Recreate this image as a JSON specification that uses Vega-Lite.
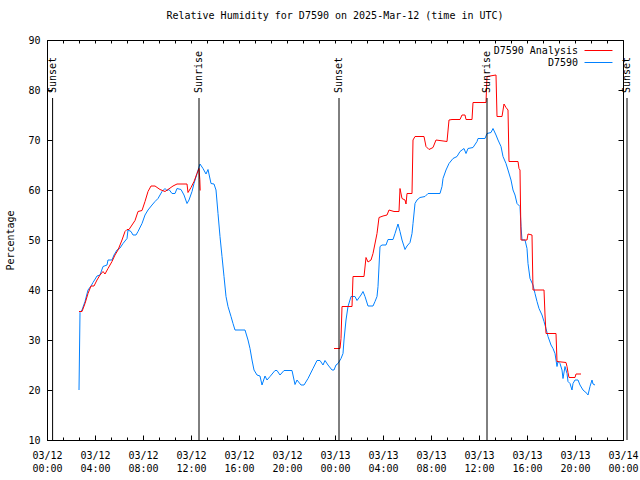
{
  "$schema": "https://vega.github.io/schema/vega-lite/v6.json",
  "width": 576,
  "height": 400,
  "autosize": "none",
  "padding": {"left": 47, "top": 40, "right": 17, "bottom": 40},
  "background": "white",
  "title": {"text": "Relative Humidity for D7590 on 2025-Mar-12 (time in UTC)", "font": "DejaVu Sans Mono", "fontSize": 10, "fontWeight": "normal", "color": "black", "offset": 14, "anchor": "middle"},
  "config": {
    "view": {"stroke": "black", "strokeWidth": 1},
    "axis": {"labelFont": "DejaVu Sans Mono", "labelFontSize": 10, "labelColor": "black", "titleFont": "DejaVu Sans Mono", "titleFontSize": 10, "titleFontWeight": "normal", "titleColor": "black", "tickColor": "black", "domainColor": "black", "grid": false},
    "legend": {"labelFont": "DejaVu Sans Mono", "labelFontSize": 10, "labelColor": "black"}
  },
  "datasets": {
    "events": [
      {"time": "2025-03-12T00:28:00Z", "event": "Sunset"},
      {"time": "2025-03-12T12:40:00Z", "event": "Sunrise"},
      {"time": "2025-03-13T00:20:00Z", "event": "Sunset"},
      {"time": "2025-03-13T12:40:00Z", "event": "Sunrise"},
      {"time": "2025-03-14T00:20:00Z", "event": "Sunset"}
    ],
    "rh": [
      {"time": "2025-03-12T02:40:00Z", "value": 20, "series": "D7590", "seg": "obs"},
      {"time": "2025-03-12T02:45:00Z", "value": 35.5, "series": "D7590", "seg": "obs"},
      {"time": "2025-03-12T02:55:00Z", "value": 36, "series": "D7590", "seg": "obs"},
      {"time": "2025-03-12T03:10:00Z", "value": 37.7, "series": "D7590", "seg": "obs"},
      {"time": "2025-03-12T03:25:00Z", "value": 40, "series": "D7590", "seg": "obs"},
      {"time": "2025-03-12T03:40:00Z", "value": 40.8, "series": "D7590", "seg": "obs"},
      {"time": "2025-03-12T03:50:00Z", "value": 41.5, "series": "D7590", "seg": "obs"},
      {"time": "2025-03-12T04:10:00Z", "value": 42.8, "series": "D7590", "seg": "obs"},
      {"time": "2025-03-12T04:25:00Z", "value": 43, "series": "D7590", "seg": "obs"},
      {"time": "2025-03-12T04:40:00Z", "value": 44.7, "series": "D7590", "seg": "obs"},
      {"time": "2025-03-12T05:00:00Z", "value": 45, "series": "D7590", "seg": "obs"},
      {"time": "2025-03-12T05:05:00Z", "value": 46, "series": "D7590", "seg": "obs"},
      {"time": "2025-03-12T05:25:00Z", "value": 46, "series": "D7590", "seg": "obs"},
      {"time": "2025-03-12T05:35:00Z", "value": 47, "series": "D7590", "seg": "obs"},
      {"time": "2025-03-12T05:50:00Z", "value": 48, "series": "D7590", "seg": "obs"},
      {"time": "2025-03-12T06:05:00Z", "value": 48.4, "series": "D7590", "seg": "obs"},
      {"time": "2025-03-12T06:20:00Z", "value": 49.3, "series": "D7590", "seg": "obs"},
      {"time": "2025-03-12T06:40:00Z", "value": 50.3, "series": "D7590", "seg": "obs"},
      {"time": "2025-03-12T06:45:00Z", "value": 52, "series": "D7590", "seg": "obs"},
      {"time": "2025-03-12T07:00:00Z", "value": 51.7, "series": "D7590", "seg": "obs"},
      {"time": "2025-03-12T07:10:00Z", "value": 51, "series": "D7590", "seg": "obs"},
      {"time": "2025-03-12T07:25:00Z", "value": 51, "series": "D7590", "seg": "obs"},
      {"time": "2025-03-12T07:35:00Z", "value": 51.7, "series": "D7590", "seg": "obs"},
      {"time": "2025-03-12T07:55:00Z", "value": 53.3, "series": "D7590", "seg": "obs"},
      {"time": "2025-03-12T08:10:00Z", "value": 55, "series": "D7590", "seg": "obs"},
      {"time": "2025-03-12T08:25:00Z", "value": 56, "series": "D7590", "seg": "obs"},
      {"time": "2025-03-12T08:45:00Z", "value": 57, "series": "D7590", "seg": "obs"},
      {"time": "2025-03-12T09:00:00Z", "value": 57.7, "series": "D7590", "seg": "obs"},
      {"time": "2025-03-12T09:15:00Z", "value": 58.3, "series": "D7590", "seg": "obs"},
      {"time": "2025-03-12T09:35:00Z", "value": 59.7, "series": "D7590", "seg": "obs"},
      {"time": "2025-03-12T09:50:00Z", "value": 60.3, "series": "D7590", "seg": "obs"},
      {"time": "2025-03-12T10:00:00Z", "value": 59.9, "series": "D7590", "seg": "obs"},
      {"time": "2025-03-12T10:10:00Z", "value": 60.1, "series": "D7590", "seg": "obs"},
      {"time": "2025-03-12T10:25:00Z", "value": 59.3, "series": "D7590", "seg": "obs"},
      {"time": "2025-03-12T10:40:00Z", "value": 59.3, "series": "D7590", "seg": "obs"},
      {"time": "2025-03-12T10:50:00Z", "value": 60.3, "series": "D7590", "seg": "obs"},
      {"time": "2025-03-12T11:10:00Z", "value": 60.1, "series": "D7590", "seg": "obs"},
      {"time": "2025-03-12T11:25:00Z", "value": 59, "series": "D7590", "seg": "obs"},
      {"time": "2025-03-12T11:40:00Z", "value": 57.3, "series": "D7590", "seg": "obs"},
      {"time": "2025-03-12T11:50:00Z", "value": 58, "series": "D7590", "seg": "obs"},
      {"time": "2025-03-12T12:05:00Z", "value": 59.7, "series": "D7590", "seg": "obs"},
      {"time": "2025-03-12T12:15:00Z", "value": 61.3, "series": "D7590", "seg": "obs"},
      {"time": "2025-03-12T12:30:00Z", "value": 63.3, "series": "D7590", "seg": "obs"},
      {"time": "2025-03-12T12:45:00Z", "value": 65.2, "series": "D7590", "seg": "obs"},
      {"time": "2025-03-12T13:00:00Z", "value": 64.3, "series": "D7590", "seg": "obs"},
      {"time": "2025-03-12T13:15:00Z", "value": 63.2, "series": "D7590", "seg": "obs"},
      {"time": "2025-03-12T13:25:00Z", "value": 64.1, "series": "D7590", "seg": "obs"},
      {"time": "2025-03-12T13:40:00Z", "value": 61.3, "series": "D7590", "seg": "obs"},
      {"time": "2025-03-12T13:55:00Z", "value": 61.2, "series": "D7590", "seg": "obs"},
      {"time": "2025-03-12T14:05:00Z", "value": 60, "series": "D7590", "seg": "obs"},
      {"time": "2025-03-12T14:15:00Z", "value": 55.3, "series": "D7590", "seg": "obs"},
      {"time": "2025-03-12T14:25:00Z", "value": 50.7, "series": "D7590", "seg": "obs"},
      {"time": "2025-03-12T14:35:00Z", "value": 46.7, "series": "D7590", "seg": "obs"},
      {"time": "2025-03-12T14:45:00Z", "value": 42.7, "series": "D7590", "seg": "obs"},
      {"time": "2025-03-12T14:55:00Z", "value": 38.7, "series": "D7590", "seg": "obs"},
      {"time": "2025-03-12T15:05:00Z", "value": 36.7, "series": "D7590", "seg": "obs"},
      {"time": "2025-03-12T15:20:00Z", "value": 34.7, "series": "D7590", "seg": "obs"},
      {"time": "2025-03-12T15:30:00Z", "value": 33.3, "series": "D7590", "seg": "obs"},
      {"time": "2025-03-12T15:40:00Z", "value": 32, "series": "D7590", "seg": "obs"},
      {"time": "2025-03-12T16:30:00Z", "value": 32, "series": "D7590", "seg": "obs"},
      {"time": "2025-03-12T16:45:00Z", "value": 30, "series": "D7590", "seg": "obs"},
      {"time": "2025-03-12T16:55:00Z", "value": 28.3, "series": "D7590", "seg": "obs"},
      {"time": "2025-03-12T17:05:00Z", "value": 26, "series": "D7590", "seg": "obs"},
      {"time": "2025-03-12T17:15:00Z", "value": 24, "series": "D7590", "seg": "obs"},
      {"time": "2025-03-12T17:30:00Z", "value": 23, "series": "D7590", "seg": "obs"},
      {"time": "2025-03-12T17:45:00Z", "value": 22.8, "series": "D7590", "seg": "obs"},
      {"time": "2025-03-12T17:55:00Z", "value": 21, "series": "D7590", "seg": "obs"},
      {"time": "2025-03-12T18:10:00Z", "value": 22.8, "series": "D7590", "seg": "obs"},
      {"time": "2025-03-12T18:20:00Z", "value": 22, "series": "D7590", "seg": "obs"},
      {"time": "2025-03-12T18:35:00Z", "value": 22.7, "series": "D7590", "seg": "obs"},
      {"time": "2025-03-12T19:00:00Z", "value": 23.9, "series": "D7590", "seg": "obs"},
      {"time": "2025-03-12T19:10:00Z", "value": 23.9, "series": "D7590", "seg": "obs"},
      {"time": "2025-03-12T19:25:00Z", "value": 23, "series": "D7590", "seg": "obs"},
      {"time": "2025-03-12T19:45:00Z", "value": 23.9, "series": "D7590", "seg": "obs"},
      {"time": "2025-03-12T20:25:00Z", "value": 23.9, "series": "D7590", "seg": "obs"},
      {"time": "2025-03-12T20:40:00Z", "value": 21.1, "series": "D7590", "seg": "obs"},
      {"time": "2025-03-12T20:50:00Z", "value": 22, "series": "D7590", "seg": "obs"},
      {"time": "2025-03-12T21:10:00Z", "value": 21, "series": "D7590", "seg": "obs"},
      {"time": "2025-03-12T21:25:00Z", "value": 21, "series": "D7590", "seg": "obs"},
      {"time": "2025-03-12T21:45:00Z", "value": 22.3, "series": "D7590", "seg": "obs"},
      {"time": "2025-03-12T22:10:00Z", "value": 24.3, "series": "D7590", "seg": "obs"},
      {"time": "2025-03-12T22:30:00Z", "value": 25.9, "series": "D7590", "seg": "obs"},
      {"time": "2025-03-12T22:45:00Z", "value": 25.9, "series": "D7590", "seg": "obs"},
      {"time": "2025-03-12T23:00:00Z", "value": 25, "series": "D7590", "seg": "obs"},
      {"time": "2025-03-12T23:10:00Z", "value": 25.9, "series": "D7590", "seg": "obs"},
      {"time": "2025-03-12T23:25:00Z", "value": 25, "series": "D7590", "seg": "obs"},
      {"time": "2025-03-12T23:45:00Z", "value": 24, "series": "D7590", "seg": "obs"},
      {"time": "2025-03-12T23:55:00Z", "value": 24, "series": "D7590", "seg": "obs"},
      {"time": "2025-03-13T00:05:00Z", "value": 25, "series": "D7590", "seg": "obs"},
      {"time": "2025-03-13T00:15:00Z", "value": 25.3, "series": "D7590", "seg": "obs"},
      {"time": "2025-03-13T00:30:00Z", "value": 26.3, "series": "D7590", "seg": "obs"},
      {"time": "2025-03-13T00:40:00Z", "value": 27.3, "series": "D7590", "seg": "obs"},
      {"time": "2025-03-13T00:45:00Z", "value": 30, "series": "D7590", "seg": "obs"},
      {"time": "2025-03-13T00:55:00Z", "value": 34, "series": "D7590", "seg": "obs"},
      {"time": "2025-03-13T01:05:00Z", "value": 36.7, "series": "D7590", "seg": "obs"},
      {"time": "2025-03-13T01:20:00Z", "value": 38.7, "series": "D7590", "seg": "obs"},
      {"time": "2025-03-13T01:40:00Z", "value": 38.7, "series": "D7590", "seg": "obs"},
      {"time": "2025-03-13T01:50:00Z", "value": 37.9, "series": "D7590", "seg": "obs"},
      {"time": "2025-03-13T02:10:00Z", "value": 39, "series": "D7590", "seg": "obs"},
      {"time": "2025-03-13T02:20:00Z", "value": 39.7, "series": "D7590", "seg": "obs"},
      {"time": "2025-03-13T02:30:00Z", "value": 38.7, "series": "D7590", "seg": "obs"},
      {"time": "2025-03-13T02:45:00Z", "value": 36.8, "series": "D7590", "seg": "obs"},
      {"time": "2025-03-13T03:10:00Z", "value": 36.8, "series": "D7590", "seg": "obs"},
      {"time": "2025-03-13T03:20:00Z", "value": 37.7, "series": "D7590", "seg": "obs"},
      {"time": "2025-03-13T03:30:00Z", "value": 38.7, "series": "D7590", "seg": "obs"},
      {"time": "2025-03-13T03:35:00Z", "value": 40.7, "series": "D7590", "seg": "obs"},
      {"time": "2025-03-13T03:45:00Z", "value": 48.7, "series": "D7590", "seg": "obs"},
      {"time": "2025-03-13T03:55:00Z", "value": 49, "series": "D7590", "seg": "obs"},
      {"time": "2025-03-13T04:15:00Z", "value": 49, "series": "D7590", "seg": "obs"},
      {"time": "2025-03-13T04:25:00Z", "value": 50.1, "series": "D7590", "seg": "obs"},
      {"time": "2025-03-13T04:50:00Z", "value": 50.1, "series": "D7590", "seg": "obs"},
      {"time": "2025-03-13T05:00:00Z", "value": 51.3, "series": "D7590", "seg": "obs"},
      {"time": "2025-03-13T05:15:00Z", "value": 53.2, "series": "D7590", "seg": "obs"},
      {"time": "2025-03-13T05:25:00Z", "value": 51.7, "series": "D7590", "seg": "obs"},
      {"time": "2025-03-13T05:35:00Z", "value": 50, "series": "D7590", "seg": "obs"},
      {"time": "2025-03-13T05:50:00Z", "value": 48.1, "series": "D7590", "seg": "obs"},
      {"time": "2025-03-13T06:00:00Z", "value": 48.8, "series": "D7590", "seg": "obs"},
      {"time": "2025-03-13T06:15:00Z", "value": 49.5, "series": "D7590", "seg": "obs"},
      {"time": "2025-03-13T06:25:00Z", "value": 51.3, "series": "D7590", "seg": "obs"},
      {"time": "2025-03-13T06:30:00Z", "value": 53.3, "series": "D7590", "seg": "obs"},
      {"time": "2025-03-13T06:40:00Z", "value": 57.3, "series": "D7590", "seg": "obs"},
      {"time": "2025-03-13T06:50:00Z", "value": 58, "series": "D7590", "seg": "obs"},
      {"time": "2025-03-13T07:05:00Z", "value": 58.5, "series": "D7590", "seg": "obs"},
      {"time": "2025-03-13T07:30:00Z", "value": 58.7, "series": "D7590", "seg": "obs"},
      {"time": "2025-03-13T07:45:00Z", "value": 59.3, "series": "D7590", "seg": "obs"},
      {"time": "2025-03-13T08:45:00Z", "value": 59.3, "series": "D7590", "seg": "obs"},
      {"time": "2025-03-13T08:55:00Z", "value": 60.7, "series": "D7590", "seg": "obs"},
      {"time": "2025-03-13T09:00:00Z", "value": 62.3, "series": "D7590", "seg": "obs"},
      {"time": "2025-03-13T09:15:00Z", "value": 64, "series": "D7590", "seg": "obs"},
      {"time": "2025-03-13T09:30:00Z", "value": 65.3, "series": "D7590", "seg": "obs"},
      {"time": "2025-03-13T09:50:00Z", "value": 66.3, "series": "D7590", "seg": "obs"},
      {"time": "2025-03-13T10:10:00Z", "value": 66.7, "series": "D7590", "seg": "obs"},
      {"time": "2025-03-13T10:25:00Z", "value": 67.7, "series": "D7590", "seg": "obs"},
      {"time": "2025-03-13T10:45:00Z", "value": 68.3, "series": "D7590", "seg": "obs"},
      {"time": "2025-03-13T10:55:00Z", "value": 67.3, "series": "D7590", "seg": "obs"},
      {"time": "2025-03-13T11:05:00Z", "value": 68.3, "series": "D7590", "seg": "obs"},
      {"time": "2025-03-13T11:30:00Z", "value": 68.5, "series": "D7590", "seg": "obs"},
      {"time": "2025-03-13T11:50:00Z", "value": 69.7, "series": "D7590", "seg": "obs"},
      {"time": "2025-03-13T11:55:00Z", "value": 70.3, "series": "D7590", "seg": "obs"},
      {"time": "2025-03-13T12:30:00Z", "value": 70.3, "series": "D7590", "seg": "obs"},
      {"time": "2025-03-13T12:40:00Z", "value": 71.3, "series": "D7590", "seg": "obs"},
      {"time": "2025-03-13T13:00:00Z", "value": 71.5, "series": "D7590", "seg": "obs"},
      {"time": "2025-03-13T13:10:00Z", "value": 72.3, "series": "D7590", "seg": "obs"},
      {"time": "2025-03-13T13:25:00Z", "value": 71, "series": "D7590", "seg": "obs"},
      {"time": "2025-03-13T13:35:00Z", "value": 70, "series": "D7590", "seg": "obs"},
      {"time": "2025-03-13T13:50:00Z", "value": 68.7, "series": "D7590", "seg": "obs"},
      {"time": "2025-03-13T14:00:00Z", "value": 66.7, "series": "D7590", "seg": "obs"},
      {"time": "2025-03-13T14:15:00Z", "value": 65.3, "series": "D7590", "seg": "obs"},
      {"time": "2025-03-13T14:25:00Z", "value": 64, "series": "D7590", "seg": "obs"},
      {"time": "2025-03-13T14:40:00Z", "value": 62, "series": "D7590", "seg": "obs"},
      {"time": "2025-03-13T14:50:00Z", "value": 60, "series": "D7590", "seg": "obs"},
      {"time": "2025-03-13T15:00:00Z", "value": 59, "series": "D7590", "seg": "obs"},
      {"time": "2025-03-13T15:10:00Z", "value": 57.3, "series": "D7590", "seg": "obs"},
      {"time": "2025-03-13T15:25:00Z", "value": 56.7, "series": "D7590", "seg": "obs"},
      {"time": "2025-03-13T15:30:00Z", "value": 52.7, "series": "D7590", "seg": "obs"},
      {"time": "2025-03-13T15:35:00Z", "value": 50, "series": "D7590", "seg": "obs"},
      {"time": "2025-03-13T15:50:00Z", "value": 50, "series": "D7590", "seg": "obs"},
      {"time": "2025-03-13T16:00:00Z", "value": 48.3, "series": "D7590", "seg": "obs"},
      {"time": "2025-03-13T16:05:00Z", "value": 45.3, "series": "D7590", "seg": "obs"},
      {"time": "2025-03-13T16:15:00Z", "value": 42.3, "series": "D7590", "seg": "obs"},
      {"time": "2025-03-13T16:30:00Z", "value": 41, "series": "D7590", "seg": "obs"},
      {"time": "2025-03-13T16:40:00Z", "value": 39.3, "series": "D7590", "seg": "obs"},
      {"time": "2025-03-13T16:50:00Z", "value": 37.7, "series": "D7590", "seg": "obs"},
      {"time": "2025-03-13T17:00:00Z", "value": 36.3, "series": "D7590", "seg": "obs"},
      {"time": "2025-03-13T17:15:00Z", "value": 35, "series": "D7590", "seg": "obs"},
      {"time": "2025-03-13T17:25:00Z", "value": 33.7, "series": "D7590", "seg": "obs"},
      {"time": "2025-03-13T17:35:00Z", "value": 32.3, "series": "D7590", "seg": "obs"},
      {"time": "2025-03-13T17:45:00Z", "value": 30.7, "series": "D7590", "seg": "obs"},
      {"time": "2025-03-13T18:00:00Z", "value": 29, "series": "D7590", "seg": "obs"},
      {"time": "2025-03-13T18:10:00Z", "value": 28.3, "series": "D7590", "seg": "obs"},
      {"time": "2025-03-13T18:20:00Z", "value": 27.3, "series": "D7590", "seg": "obs"},
      {"time": "2025-03-13T18:30:00Z", "value": 24.7, "series": "D7590", "seg": "obs"},
      {"time": "2025-03-13T18:35:00Z", "value": 25.7, "series": "D7590", "seg": "obs"},
      {"time": "2025-03-13T18:45:00Z", "value": 25.3, "series": "D7590", "seg": "obs"},
      {"time": "2025-03-13T18:55:00Z", "value": 24, "series": "D7590", "seg": "obs"},
      {"time": "2025-03-13T19:00:00Z", "value": 22.3, "series": "D7590", "seg": "obs"},
      {"time": "2025-03-13T19:10:00Z", "value": 24.7, "series": "D7590", "seg": "obs"},
      {"time": "2025-03-13T19:20:00Z", "value": 23.3, "series": "D7590", "seg": "obs"},
      {"time": "2025-03-13T19:25:00Z", "value": 21.7, "series": "D7590", "seg": "obs"},
      {"time": "2025-03-13T19:35:00Z", "value": 21.3, "series": "D7590", "seg": "obs"},
      {"time": "2025-03-13T19:45:00Z", "value": 20, "series": "D7590", "seg": "obs"},
      {"time": "2025-03-13T19:50:00Z", "value": 21.3, "series": "D7590", "seg": "obs"},
      {"time": "2025-03-13T20:00:00Z", "value": 22, "series": "D7590", "seg": "obs"},
      {"time": "2025-03-13T20:15:00Z", "value": 22, "series": "D7590", "seg": "obs"},
      {"time": "2025-03-13T20:25:00Z", "value": 21, "series": "D7590", "seg": "obs"},
      {"time": "2025-03-13T20:40:00Z", "value": 20, "series": "D7590", "seg": "obs"},
      {"time": "2025-03-13T21:00:00Z", "value": 19.3, "series": "D7590", "seg": "obs"},
      {"time": "2025-03-13T21:05:00Z", "value": 19, "series": "D7590", "seg": "obs"},
      {"time": "2025-03-13T21:15:00Z", "value": 20.7, "series": "D7590", "seg": "obs"},
      {"time": "2025-03-13T21:25:00Z", "value": 22, "series": "D7590", "seg": "obs"},
      {"time": "2025-03-13T21:30:00Z", "value": 21.2, "series": "D7590", "seg": "obs"},
      {"time": "2025-03-13T21:40:00Z", "value": 21, "series": "D7590", "seg": "obs"},
      {"time": "2025-03-12T02:40:00Z", "value": 35.7, "series": "D7590 Analysis", "seg": "a1"},
      {"time": "2025-03-12T02:55:00Z", "value": 35.7, "series": "D7590 Analysis", "seg": "a1"},
      {"time": "2025-03-12T03:10:00Z", "value": 37.3, "series": "D7590 Analysis", "seg": "a1"},
      {"time": "2025-03-12T03:25:00Z", "value": 39.3, "series": "D7590 Analysis", "seg": "a1"},
      {"time": "2025-03-12T03:40:00Z", "value": 40.8, "series": "D7590 Analysis", "seg": "a1"},
      {"time": "2025-03-12T03:55:00Z", "value": 40.8, "series": "D7590 Analysis", "seg": "a1"},
      {"time": "2025-03-12T04:10:00Z", "value": 42, "series": "D7590 Analysis", "seg": "a1"},
      {"time": "2025-03-12T04:25:00Z", "value": 43, "series": "D7590 Analysis", "seg": "a1"},
      {"time": "2025-03-12T04:40:00Z", "value": 43.7, "series": "D7590 Analysis", "seg": "a1"},
      {"time": "2025-03-12T04:50:00Z", "value": 43.2, "series": "D7590 Analysis", "seg": "a1"},
      {"time": "2025-03-12T05:05:00Z", "value": 44.3, "series": "D7590 Analysis", "seg": "a1"},
      {"time": "2025-03-12T05:25:00Z", "value": 45.7, "series": "D7590 Analysis", "seg": "a1"},
      {"time": "2025-03-12T05:40:00Z", "value": 47, "series": "D7590 Analysis", "seg": "a1"},
      {"time": "2025-03-12T05:55:00Z", "value": 48, "series": "D7590 Analysis", "seg": "a1"},
      {"time": "2025-03-12T06:15:00Z", "value": 50, "series": "D7590 Analysis", "seg": "a1"},
      {"time": "2025-03-12T06:30:00Z", "value": 51.7, "series": "D7590 Analysis", "seg": "a1"},
      {"time": "2025-03-12T06:40:00Z", "value": 52.1, "series": "D7590 Analysis", "seg": "a1"},
      {"time": "2025-03-12T06:50:00Z", "value": 52.1, "series": "D7590 Analysis", "seg": "a1"},
      {"time": "2025-03-12T07:05:00Z", "value": 53, "series": "D7590 Analysis", "seg": "a1"},
      {"time": "2025-03-12T07:20:00Z", "value": 53.9, "series": "D7590 Analysis", "seg": "a1"},
      {"time": "2025-03-12T07:35:00Z", "value": 55.7, "series": "D7590 Analysis", "seg": "a1"},
      {"time": "2025-03-12T07:55:00Z", "value": 55.9, "series": "D7590 Analysis", "seg": "a1"},
      {"time": "2025-03-12T08:10:00Z", "value": 57.7, "series": "D7590 Analysis", "seg": "a1"},
      {"time": "2025-03-12T08:25:00Z", "value": 59.7, "series": "D7590 Analysis", "seg": "a1"},
      {"time": "2025-03-12T08:40:00Z", "value": 60.8, "series": "D7590 Analysis", "seg": "a1"},
      {"time": "2025-03-12T09:00:00Z", "value": 60.8, "series": "D7590 Analysis", "seg": "a1"},
      {"time": "2025-03-12T09:25:00Z", "value": 60.1, "series": "D7590 Analysis", "seg": "a1"},
      {"time": "2025-03-12T09:50:00Z", "value": 59.7, "series": "D7590 Analysis", "seg": "a1"},
      {"time": "2025-03-12T10:05:00Z", "value": 60.1, "series": "D7590 Analysis", "seg": "a1"},
      {"time": "2025-03-12T10:30:00Z", "value": 60.8, "series": "D7590 Analysis", "seg": "a1"},
      {"time": "2025-03-12T10:50:00Z", "value": 61.2, "series": "D7590 Analysis", "seg": "a1"},
      {"time": "2025-03-12T11:40:00Z", "value": 61.2, "series": "D7590 Analysis", "seg": "a1"},
      {"time": "2025-03-12T11:45:00Z", "value": 59.5, "series": "D7590 Analysis", "seg": "a1"},
      {"time": "2025-03-12T12:00:00Z", "value": 60.5, "series": "D7590 Analysis", "seg": "a1"},
      {"time": "2025-03-12T12:15:00Z", "value": 61.7, "series": "D7590 Analysis", "seg": "a1"},
      {"time": "2025-03-12T12:30:00Z", "value": 63.3, "series": "D7590 Analysis", "seg": "a1"},
      {"time": "2025-03-12T12:40:00Z", "value": 64.3, "series": "D7590 Analysis", "seg": "a1"},
      {"time": "2025-03-12T12:44:00Z", "value": 62.1, "series": "D7590 Analysis", "seg": "a1"},
      {"time": "2025-03-12T12:46:00Z", "value": 59.9, "series": "D7590 Analysis", "seg": "a1"},
      {"time": "2025-03-12T23:55:00Z", "value": 28.3, "series": "D7590 Analysis", "seg": "a2"},
      {"time": "2025-03-13T00:25:00Z", "value": 28.3, "series": "D7590 Analysis", "seg": "a2"},
      {"time": "2025-03-13T00:30:00Z", "value": 30.3, "series": "D7590 Analysis", "seg": "a2"},
      {"time": "2025-03-13T00:35:00Z", "value": 36.7, "series": "D7590 Analysis", "seg": "a2"},
      {"time": "2025-03-13T01:25:00Z", "value": 36.7, "series": "D7590 Analysis", "seg": "a2"},
      {"time": "2025-03-13T01:30:00Z", "value": 42.7, "series": "D7590 Analysis", "seg": "a2"},
      {"time": "2025-03-13T02:25:00Z", "value": 42.7, "series": "D7590 Analysis", "seg": "a2"},
      {"time": "2025-03-13T02:35:00Z", "value": 46.5, "series": "D7590 Analysis", "seg": "a2"},
      {"time": "2025-03-13T02:45:00Z", "value": 45.6, "series": "D7590 Analysis", "seg": "a2"},
      {"time": "2025-03-13T03:00:00Z", "value": 46, "series": "D7590 Analysis", "seg": "a2"},
      {"time": "2025-03-13T03:10:00Z", "value": 47.3, "series": "D7590 Analysis", "seg": "a2"},
      {"time": "2025-03-13T03:30:00Z", "value": 51.3, "series": "D7590 Analysis", "seg": "a2"},
      {"time": "2025-03-13T03:40:00Z", "value": 54.5, "series": "D7590 Analysis", "seg": "a2"},
      {"time": "2025-03-13T04:00:00Z", "value": 54.8, "series": "D7590 Analysis", "seg": "a2"},
      {"time": "2025-03-13T04:20:00Z", "value": 55, "series": "D7590 Analysis", "seg": "a2"},
      {"time": "2025-03-13T04:30:00Z", "value": 56, "series": "D7590 Analysis", "seg": "a2"},
      {"time": "2025-03-13T04:55:00Z", "value": 55.7, "series": "D7590 Analysis", "seg": "a2"},
      {"time": "2025-03-13T05:20:00Z", "value": 55.7, "series": "D7590 Analysis", "seg": "a2"},
      {"time": "2025-03-13T05:25:00Z", "value": 60.3, "series": "D7590 Analysis", "seg": "a2"},
      {"time": "2025-03-13T05:35:00Z", "value": 58.3, "series": "D7590 Analysis", "seg": "a2"},
      {"time": "2025-03-13T05:50:00Z", "value": 58, "series": "D7590 Analysis", "seg": "a2"},
      {"time": "2025-03-13T05:55:00Z", "value": 57.2, "series": "D7590 Analysis", "seg": "a2"},
      {"time": "2025-03-13T06:00:00Z", "value": 59.3, "series": "D7590 Analysis", "seg": "a2"},
      {"time": "2025-03-13T06:25:00Z", "value": 59.3, "series": "D7590 Analysis", "seg": "a2"},
      {"time": "2025-03-13T06:30:00Z", "value": 70, "series": "D7590 Analysis", "seg": "a2"},
      {"time": "2025-03-13T06:40:00Z", "value": 70.7, "series": "D7590 Analysis", "seg": "a2"},
      {"time": "2025-03-13T07:25:00Z", "value": 70.7, "series": "D7590 Analysis", "seg": "a2"},
      {"time": "2025-03-13T07:35:00Z", "value": 68.7, "series": "D7590 Analysis", "seg": "a2"},
      {"time": "2025-03-13T07:50:00Z", "value": 68.1, "series": "D7590 Analysis", "seg": "a2"},
      {"time": "2025-03-13T08:10:00Z", "value": 68.5, "series": "D7590 Analysis", "seg": "a2"},
      {"time": "2025-03-13T08:25:00Z", "value": 70, "series": "D7590 Analysis", "seg": "a2"},
      {"time": "2025-03-13T09:20:00Z", "value": 69.7, "series": "D7590 Analysis", "seg": "a2"},
      {"time": "2025-03-13T09:30:00Z", "value": 74, "series": "D7590 Analysis", "seg": "a2"},
      {"time": "2025-03-13T09:45:00Z", "value": 74.1, "series": "D7590 Analysis", "seg": "a2"},
      {"time": "2025-03-13T10:25:00Z", "value": 74.1, "series": "D7590 Analysis", "seg": "a2"},
      {"time": "2025-03-13T10:35:00Z", "value": 75, "series": "D7590 Analysis", "seg": "a2"},
      {"time": "2025-03-13T10:50:00Z", "value": 75, "series": "D7590 Analysis", "seg": "a2"},
      {"time": "2025-03-13T10:55:00Z", "value": 74.1, "series": "D7590 Analysis", "seg": "a2"},
      {"time": "2025-03-13T11:25:00Z", "value": 74.1, "series": "D7590 Analysis", "seg": "a2"},
      {"time": "2025-03-13T11:30:00Z", "value": 77.5, "series": "D7590 Analysis", "seg": "a2"},
      {"time": "2025-03-13T12:35:00Z", "value": 77.5, "series": "D7590 Analysis", "seg": "a2"},
      {"time": "2025-03-13T12:40:00Z", "value": 82.7, "series": "D7590 Analysis", "seg": "a2"},
      {"time": "2025-03-13T13:25:00Z", "value": 83, "series": "D7590 Analysis", "seg": "a2"},
      {"time": "2025-03-13T13:30:00Z", "value": 74.7, "series": "D7590 Analysis", "seg": "a2"},
      {"time": "2025-03-13T13:55:00Z", "value": 74.7, "series": "D7590 Analysis", "seg": "a2"},
      {"time": "2025-03-13T14:05:00Z", "value": 77.2, "series": "D7590 Analysis", "seg": "a2"},
      {"time": "2025-03-13T14:15:00Z", "value": 76.5, "series": "D7590 Analysis", "seg": "a2"},
      {"time": "2025-03-13T14:25:00Z", "value": 76, "series": "D7590 Analysis", "seg": "a2"},
      {"time": "2025-03-13T14:30:00Z", "value": 65.7, "series": "D7590 Analysis", "seg": "a2"},
      {"time": "2025-03-13T15:15:00Z", "value": 65.7, "series": "D7590 Analysis", "seg": "a2"},
      {"time": "2025-03-13T15:20:00Z", "value": 64.3, "series": "D7590 Analysis", "seg": "a2"},
      {"time": "2025-03-13T15:25:00Z", "value": 64, "series": "D7590 Analysis", "seg": "a2"},
      {"time": "2025-03-13T15:30:00Z", "value": 50, "series": "D7590 Analysis", "seg": "a2"},
      {"time": "2025-03-13T16:00:00Z", "value": 50, "series": "D7590 Analysis", "seg": "a2"},
      {"time": "2025-03-13T16:05:00Z", "value": 51.2, "series": "D7590 Analysis", "seg": "a2"},
      {"time": "2025-03-13T16:25:00Z", "value": 51, "series": "D7590 Analysis", "seg": "a2"},
      {"time": "2025-03-13T16:30:00Z", "value": 40, "series": "D7590 Analysis", "seg": "a2"},
      {"time": "2025-03-13T17:25:00Z", "value": 40, "series": "D7590 Analysis", "seg": "a2"},
      {"time": "2025-03-13T17:30:00Z", "value": 35, "series": "D7590 Analysis", "seg": "a2"},
      {"time": "2025-03-13T17:35:00Z", "value": 31.3, "series": "D7590 Analysis", "seg": "a2"},
      {"time": "2025-03-13T18:25:00Z", "value": 31.3, "series": "D7590 Analysis", "seg": "a2"},
      {"time": "2025-03-13T18:30:00Z", "value": 25.7, "series": "D7590 Analysis", "seg": "a2"},
      {"time": "2025-03-13T19:15:00Z", "value": 25.5, "series": "D7590 Analysis", "seg": "a2"},
      {"time": "2025-03-13T19:20:00Z", "value": 24.7, "series": "D7590 Analysis", "seg": "a2"},
      {"time": "2025-03-13T19:25:00Z", "value": 23.5, "series": "D7590 Analysis", "seg": "a2"},
      {"time": "2025-03-13T19:30:00Z", "value": 22.5, "series": "D7590 Analysis", "seg": "a2"},
      {"time": "2025-03-13T20:00:00Z", "value": 22.5, "series": "D7590 Analysis", "seg": "a2"},
      {"time": "2025-03-13T20:05:00Z", "value": 23.2, "series": "D7590 Analysis", "seg": "a2"},
      {"time": "2025-03-13T20:30:00Z", "value": 23.2, "series": "D7590 Analysis", "seg": "a2"}
    ]
  },
  "resolve": {"axis": {"x": "independent", "y": "independent"}},
  "layer": [
    {
      "data": {"name": "rh"},
      "mark": {"type": "line", "strokeWidth": 1},
      "encoding": {
        "x": {"field": "time", "type": "temporal",
          "scale": {"type": "utc", "domain": [1741737600000, 1741910400000], "nice": false},
          "axis": {"orient": "bottom", "title": null, "labelExpr": "utcFormat(datum.value, '%m/%d')",
            "values": [1741737600000, 1741752000000, 1741766400000, 1741780800000, 1741795200000, 1741809600000, 1741824000000, 1741838400000, 1741852800000, 1741867200000, 1741881600000, 1741896000000, 1741910400000],
            "tickSize": -5, "labelPadding": 15, "labelFlush": false, "labelOverlap": false}},
        "y": {"field": "value", "type": "quantitative",
          "scale": {"domain": [10, 90], "nice": false, "zero": false},
          "axis": {"orient": "left", "title": "Percentage", "values": [10, 20, 30, 40, 50, 60, 70, 80, 90], "tickSize": -5, "labelPadding": 12, "titlePadding": 12}},
        "color": {"field": "series", "type": "nominal",
          "scale": {"domain": ["D7590 Analysis", "D7590"], "range": ["#ff0000", "#0080ff"]},
          "legend": {"orient": "none", "legendX": 545, "legendY": 4, "title": null, "symbolType": "M-2.33,0H2.33", "symbolSize": 144, "symbolStrokeWidth": 1, "labelAlign": "right", "labelOffset": -27, "rowPadding": 0}},
        "detail": {"field": "seg", "type": "nominal"}
      }
    },
    {
      "data": {"name": "events"},
      "mark": {"type": "rule", "color": "black", "strokeWidth": 1},
      "encoding": {
        "x": {"field": "time", "type": "temporal",
          "axis": {"orient": "bottom", "title": null, "domain": false, "tickSize": -3, "labelPadding": 26,
            "labelExpr": "(utcminutes(datum.value) == 0 && utchours(datum.value) % 4 == 0) ? utcFormat(datum.value, '%H:%M') : ''",
            "values": [1741737600000, 1741742400000, 1741747200000, 1741752000000, 1741756800000, 1741761600000, 1741766400000, 1741771200000, 1741776000000, 1741780800000, 1741785600000, 1741790400000, 1741795200000, 1741800000000, 1741804800000, 1741809600000, 1741814400000, 1741819200000, 1741824000000, 1741828800000, 1741833600000, 1741838400000, 1741843200000, 1741848000000, 1741852800000, 1741857600000, 1741862400000, 1741867200000, 1741872000000, 1741876800000, 1741881600000, 1741886400000, 1741891200000, 1741896000000, 1741900800000, 1741905600000, 1741910400000],
            "labelFlush": false, "labelOverlap": false}},
        "y": {"datum": 78.4, "type": "quantitative",
          "axis": {"orient": "right", "title": null, "labels": false, "domain": false, "values": [10, 20, 30, 40, 50, 60, 70, 80, 90], "tickSize": -5}},
        "y2": {"datum": 10}
      }
    },
    {
      "data": {"name": "events"},
      "mark": {"type": "text", "angle": 270, "align": "left", "baseline": "middle", "font": "DejaVu Sans Mono", "fontSize": 10, "color": "black"},
      "encoding": {
        "x": {"field": "time", "type": "temporal",
          "axis": {"orient": "top", "title": null, "labels": false, "domain": false, "tickSize": -3,
            "values": [1741737600000, 1741742400000, 1741747200000, 1741752000000, 1741756800000, 1741761600000, 1741766400000, 1741771200000, 1741776000000, 1741780800000, 1741785600000, 1741790400000, 1741795200000, 1741800000000, 1741804800000, 1741809600000, 1741814400000, 1741819200000, 1741824000000, 1741828800000, 1741833600000, 1741838400000, 1741843200000, 1741848000000, 1741852800000, 1741857600000, 1741862400000, 1741867200000, 1741872000000, 1741876800000, 1741881600000, 1741886400000, 1741891200000, 1741896000000, 1741900800000, 1741905600000, 1741910400000]}},
        "y": {"datum": 79.4, "type": "quantitative", "axis": null},
        "text": {"field": "event"}
      }
    }
  ]
}
